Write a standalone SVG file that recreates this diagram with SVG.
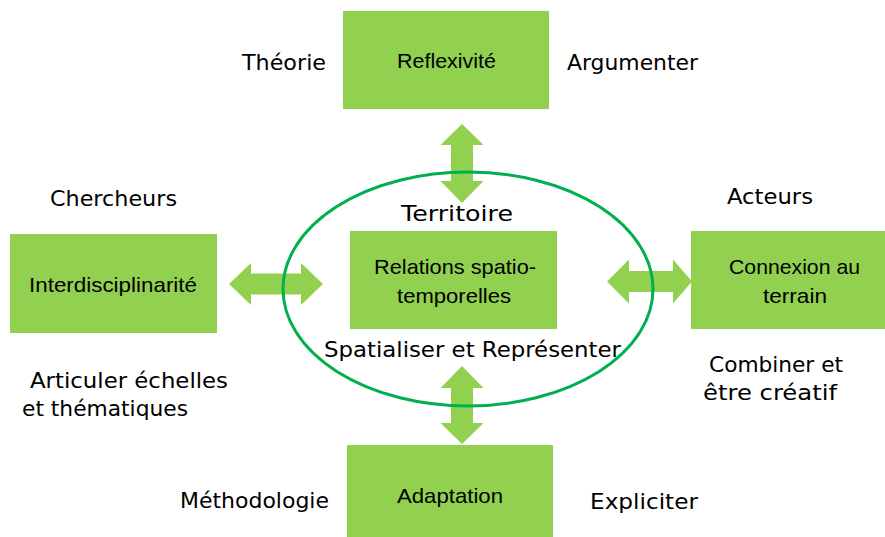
<svg xmlns="http://www.w3.org/2000/svg" width="885" height="537" viewBox="0 0 885 537">
<style>
.box{fill:#92d050;}
.arr{fill:#92d050;}
.ring{fill:none;stroke:#00b050;stroke-width:3;}
.lbl{font-family:"Comic Sans MS","DejaVu Sans",sans-serif;font-size:22px;fill:#000;}
.btx{font-family:"Liberation Sans",Arial,sans-serif;font-size:21px;fill:#000;}
</style>
<rect width="885" height="537" fill="#fff"/>
<g id="connectors">
<polygon class="arr" points="462,124 483.5,145 473,145 473,181 483.5,181 462,203 440.5,181 451,181 451,145 440.5,145"/>
<polygon class="arr" points="462,366 483.5,388 473,388 473,423 483.5,423 462,444 440.5,423 451,423 451,388 440.5,388"/>
<polygon class="arr" points="229,284 251,263 251,273.5 301,273.5 301,263 323,284 301,305 301,294.5 251,294.5 251,305"/>
<polygon class="arr" points="607,281.5 629,259.5 629,271 673,271 673,259.5 692,281.5 673,303.5 673,292 629,292 629,303.5"/>
</g>
<g id="node-reflexivite">
<rect class="box" x="343" y="11" width="206" height="98"/>
<text class="btx" x="397" y="68" textLength="99" lengthAdjust="spacingAndGlyphs">Reflexivité</text>
</g>
<g id="node-interdisciplinarite">
<rect class="box" x="10" y="234" width="207" height="99"/>
<text class="btx" x="29" y="292" textLength="168" lengthAdjust="spacingAndGlyphs">Interdisciplinarité</text>
</g>
<g id="node-relations">
<rect class="box" x="350" y="231" width="207" height="98"/>
<text class="btx" x="374" y="274" textLength="162" lengthAdjust="spacingAndGlyphs">Relations spatio-</text>
<text class="btx" x="397" y="303" textLength="114" lengthAdjust="spacingAndGlyphs">temporelles</text>
</g>
<g id="node-connexion">
<rect class="box" x="691" y="231" width="196" height="98"/>
<text class="btx" x="729" y="274" textLength="131" lengthAdjust="spacingAndGlyphs">Connexion au</text>
<text class="btx" x="763" y="303" textLength="64" lengthAdjust="spacingAndGlyphs">terrain</text>
</g>
<g id="node-adaptation">
<rect class="box" x="347" y="445" width="206" height="95"/>
<text class="btx" x="397" y="503" textLength="106" lengthAdjust="spacingAndGlyphs">Adaptation</text>
</g>
<g id="territoire-ring">
<ellipse class="ring" cx="468" cy="289" rx="185" ry="117"/>
</g>
<g id="labels">
<text class="lbl" x="242" y="70" textLength="84" lengthAdjust="spacingAndGlyphs">Théorie</text>
<text class="lbl" x="567" y="70" textLength="131" lengthAdjust="spacingAndGlyphs">Argumenter</text>
<text class="lbl" x="401" y="221" textLength="112" lengthAdjust="spacingAndGlyphs">Territoire</text>
<text class="lbl" x="50" y="206" textLength="127" lengthAdjust="spacingAndGlyphs">Chercheurs</text>
<text class="lbl" x="727" y="204" textLength="86" lengthAdjust="spacingAndGlyphs">Acteurs</text>
<text class="lbl" x="324" y="357" textLength="297" lengthAdjust="spacingAndGlyphs">Spatialiser et Représenter</text>
<text class="lbl" x="30" y="388" textLength="198" lengthAdjust="spacingAndGlyphs">Articuler échelles</text>
<text class="lbl" x="22" y="416" textLength="166" lengthAdjust="spacingAndGlyphs">et thématiques</text>
<text class="lbl" x="709" y="372" textLength="134" lengthAdjust="spacingAndGlyphs">Combiner et</text>
<text class="lbl" x="703" y="400" textLength="134" lengthAdjust="spacingAndGlyphs">être créatif</text>
<text class="lbl" x="180" y="508" textLength="149" lengthAdjust="spacingAndGlyphs">Méthodologie</text>
<text class="lbl" x="590" y="509" textLength="108" lengthAdjust="spacingAndGlyphs">Expliciter</text>
</g>
</svg>
